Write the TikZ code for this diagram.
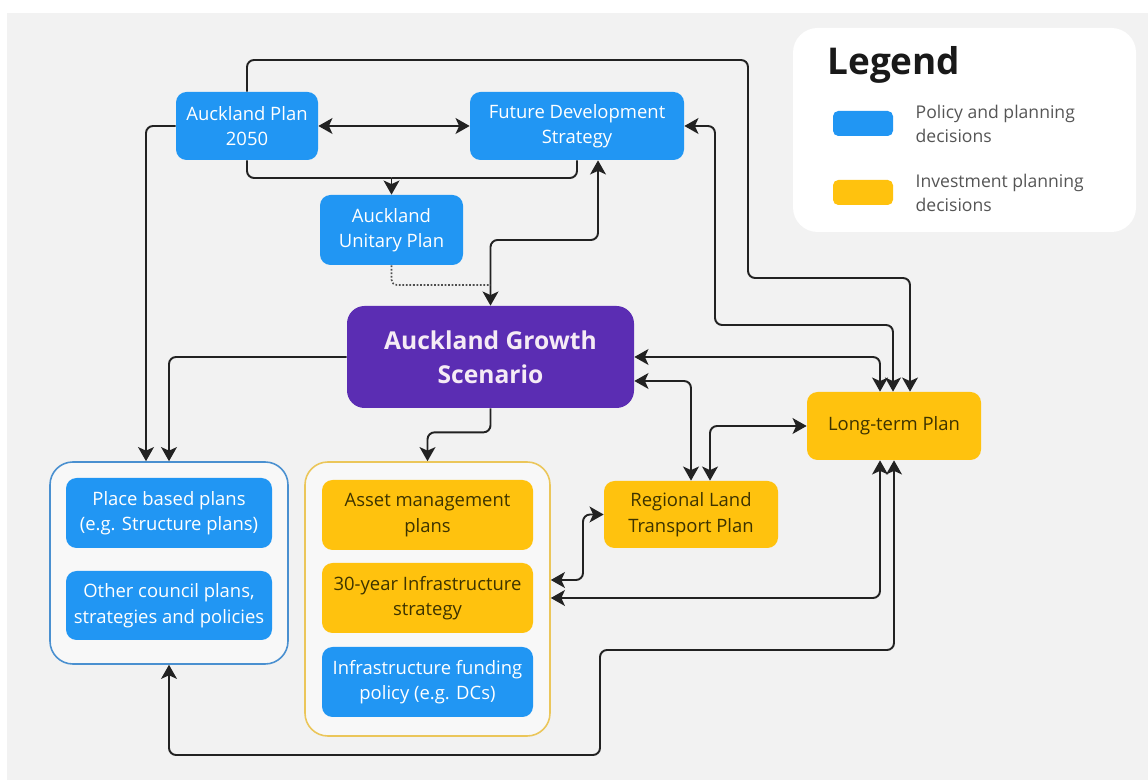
\documentclass[tikz,border=0pt]{standalone}
\usepackage{fontspec}
\setmainfont{Open Sans}
\usepackage{tikz}
\usetikzlibrary{positioning,arrows.meta}
\definecolor{policyblue}{HTML}{2196F3}
\definecolor{investyellow}{HTML}{FFC20E}
\definecolor{growthpurple}{HTML}{5B2DB3}
\definecolor{canvas}{HTML}{F2F2F2}
\definecolor{ink}{HTML}{222222}
\definecolor{investtext}{HTML}{3D3300}
\definecolor{legendtext}{HTML}{555555}
\definecolor{groupblue}{HTML}{4A90D0}
\definecolor{groupyellow}{HTML}{EBC65A}

\begin{document}
\begin{tikzpicture}[
    planbox/.style={fill=policyblue, rounded corners=6pt, text=white, align=center,
                    font=\fontsize{10.5}{14.5}\selectfont, inner sep=0pt, minimum height=1.36cm},
    investbox/.style={planbox, fill=investyellow, text=investtext},
    groupbox/.style={rounded corners=13pt, line width=0.9pt, fill=white!45!canvas, inner sep=0pt},
    swatch/.style={rounded corners=3pt, minimum width=1.2cm, minimum height=0.5cm, inner sep=0pt},
    legtext/.style={font=\fontsize{10}{13.6}\selectfont, text=legendtext, align=left, inner sep=0pt},
    link/.style={draw=ink, line width=1.1pt, rounded corners=4pt},
    arrow/.style={link, ->},
    twoway/.style={link, <->},
    >={Stealth[length=8pt,width=9pt,inset=2pt]}
  ]
    \useasboundingbox (0,0) rectangle (22.96,15.6);
    \fill[white] (0,0) rectangle (22.96,15.6);
    \fill[canvas] (0.14,0) rectangle (22.96,15.34);

    % legend
    \node[fill=white, rounded corners=14pt, minimum width=6.86cm, minimum height=4.08cm] (legend) at (19.29,13.0) {};
    \node[anchor=west, inner sep=0pt, font=\fontsize{21}{24}\selectfont\bfseries, text=black!90] (legtitle) at (16.54,14.3) {Legend};
    \node[swatch, fill=policyblue] (swp) at (17.26,13.13) {};
    \node[swatch, fill=investyellow] (swi) at (17.26,11.75) {};
    \node[legtext, right=0.44cm of swp] (legp) {Policy and planning\\decisions};
    \node[legtext, right=0.44cm of swi] (legi) {Investment planning\\decisions};

    % groups
    \node[groupbox, draw=groupblue, minimum width=4.76cm, minimum height=4.04cm] (grpL) at (3.38,4.34) {};
    \node[groupbox, draw=groupyellow, minimum width=4.9cm, minimum height=5.48cm] (grpR) at (8.55,3.62) {};

    % plans
    \node[planbox, minimum width=2.84cm] (ap) at (4.94,13.08) {Auckland Plan\\2050};
    \node[planbox, minimum width=4.28cm] (fds) at (11.54,13.08) {Future Development\\Strategy};
    \node[planbox, minimum width=2.86cm, minimum height=1.4cm] (aup) at (7.83,11.0) {Auckland\\Unitary Plan};
    \node[planbox, fill=growthpurple, text=white!92!violet, rounded corners=10pt,
          font=\fontsize{14}{19.5}\selectfont\bfseries, minimum width=5.74cm, minimum height=2.04cm] (ags) at (9.81,8.46) {Auckland Growth\\Scenario};
    \node[investbox, minimum width=3.48cm] (ltp) at (17.88,7.08) {Long-term Plan};
    \node[investbox, minimum width=3.48cm, minimum height=1.34cm] (rltp) at (13.82,5.31) {Regional Land\\Transport Plan};

    \node[planbox, minimum width=4.12cm, minimum height=1.4cm] (pbp) at (3.38,5.34) {Place based plans\\(e.g. Structure plans)};
    \node[planbox, minimum width=4.12cm, minimum height=1.38cm] (ocp) at (3.38,3.49) {Other council plans,\\strategies and policies};

    \node[investbox, minimum width=4.22cm, minimum height=1.4cm] (amp) at (8.55,5.30) {Asset management\\plans};
    \node[investbox, minimum width=4.22cm, minimum height=1.4cm] (tyis) at (8.55,3.64) {30-year Infrastructure\\strategy};
    \node[planbox, minimum width=4.22cm, minimum height=1.4cm] (ifp) at (8.55,1.96) {Infrastructure funding\\policy (e.g. DCs)};

    % junctions
    \coordinate (j1) at (7.83,12.04);
    \coordinate (j2) at (9.81,10.8);
    \coordinate (j3) at (9.81,9.9);

    % connectors
    \draw[twoway] (ap.east) -- (fds.west);
    \draw[link] (ap.south) |- (j1);
    \draw[link] (fds.south) |- (j1);
    \draw[arrow] (j1) -- (aup.north);
    \draw[twoway] ([xshift=0.42cm]fds.south) |- (j2) -- (ags.north);
    \draw[ink!80, line width=0.9pt, dash pattern=on 1pt off 1pt, rounded corners=3pt] (aup.south) |- (j3);

    \draw[arrow] (ap.north) |- (14.96,14.4) -- (14.96,10.04) -| ([xshift=0.32cm]ltp.north);
    \draw[twoway] (fds.east) -| (14.3,9.1) -| ([xshift=-0.02cm]ltp.north);
    \draw[twoway] (ags.east) -| ([xshift=-0.28cm]ltp.north);
    \draw[twoway] ([yshift=-0.48cm]ags.east) -| (rltp.north);
    \draw[twoway] (ltp.west) -| ([xshift=0.38cm]rltp.north);
    \draw[twoway] (rltp.west) -| (11.66,4.0) -- (grpR.east |- 0,4.0);
    \draw[twoway] ([xshift=-0.28cm]ltp.south) |- (grpR.east |- tyis);
    \draw[twoway] (ltp.south) |- (12.0,2.6) |- (3.38,0.5) -- (grpL.south);

    \draw[arrow] (ags.south) -- ++(0,-0.48) -| (grpR.north);
    \draw[arrow] (ags.west) -| (grpL.north);
    \draw[arrow] (ap.west) -| ([xshift=-0.46cm]grpL.north);
  \end{tikzpicture}
\end{document}
